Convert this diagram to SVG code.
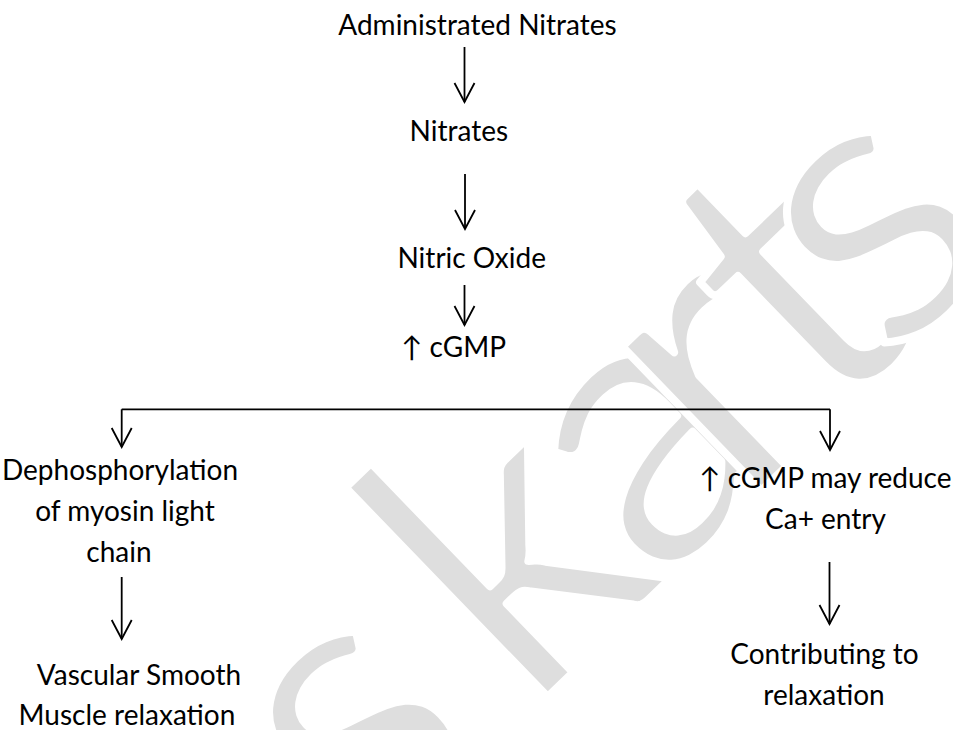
<svg xmlns="http://www.w3.org/2000/svg" width="953" height="730" viewBox="0 0 953 730">
  <style>
    .lbl { font-family: Lato, "Open Sans", "Noto Sans", sans-serif; font-size: 28px; fill: #000; text-anchor: middle; }
    .wire { fill: none; stroke: #000; stroke-width: 1.8; }
    /* large pale word behind the chart; the white outline slims its strokes */
    .wm { font-family: Lato, "Open Sans", sans-serif; font-size: 395px; fill: #dedede; stroke: #fff; stroke-width: 8; stroke-linejoin: round; }
  </style>
  <defs>
    <marker id="head" markerUnits="userSpaceOnUse" orient="auto" markerWidth="24" markerHeight="24" refX="0" refY="0" overflow="visible">
      <path d="M-19,-10 L0,0 L-19,10" fill="none" stroke="#000" stroke-width="1.8" stroke-linejoin="miter"/>
    </marker>
  </defs>
  <rect width="953" height="730" fill="#fff"/>

  <g id="watermark" transform="translate(560,685) rotate(-44)">
    <text class="wm" x="-262 -45 135 252 372 458" y="0">skarts</text>
  </g>

  <g id="connectors">
    <line class="wire" x1="464.5" y1="47" x2="464.5" y2="102" marker-end="url(#head)"/>
    <line class="wire" x1="465" y1="174" x2="465" y2="229" marker-end="url(#head)"/>
    <line class="wire" x1="464.5" y1="285" x2="464.5" y2="325" marker-end="url(#head)"/>
    <path class="wire" d="M121.7,409.3 H830"/>
    <line class="wire" x1="121.7" y1="409.3" x2="121.7" y2="447" marker-end="url(#head)"/>
    <line class="wire" x1="830" y1="409.3" x2="830" y2="450" marker-end="url(#head)"/>
    <line class="wire" x1="121.7" y1="577" x2="121.7" y2="639" marker-end="url(#head)"/>
    <line class="wire" x1="829.5" y1="562" x2="829.5" y2="624" marker-end="url(#head)"/>
  </g>

  <g id="administrated-nitrates"><text class="lbl" x="477.5" y="35">Administrated Nitrates</text></g>
  <g id="nitrates"><text class="lbl" x="458.8" y="141">Nitrates</text></g>
  <g id="nitric-oxide"><text class="lbl" x="471.7" y="267.5">Nitric Oxide</text></g>
  <g id="cgmp"><text class="lbl" x="453.7" y="357">↑ cGMP</text></g>
  <g id="dephosphorylation">
    <text class="lbl" x="120" y="480">Dephosphorylation</text>
    <text class="lbl" x="125" y="521">of myosin light</text>
    <text class="lbl" x="119" y="562">chain</text>
  </g>
  <g id="smooth-muscle">
    <text class="lbl" x="139" y="685">Vascular Smooth</text>
    <text class="lbl" x="127" y="725">Muscle relaxation</text>
  </g>
  <g id="calcium-entry">
    <text class="lbl" x="825.5" y="488">↑ cGMP may reduce</text>
    <text class="lbl" x="825.5" y="529">Ca+ entry</text>
  </g>
  <g id="contributing">
    <text class="lbl" x="824.5" y="664">Contributing to</text>
    <text class="lbl" x="824" y="705">relaxation</text>
  </g>
</svg>
